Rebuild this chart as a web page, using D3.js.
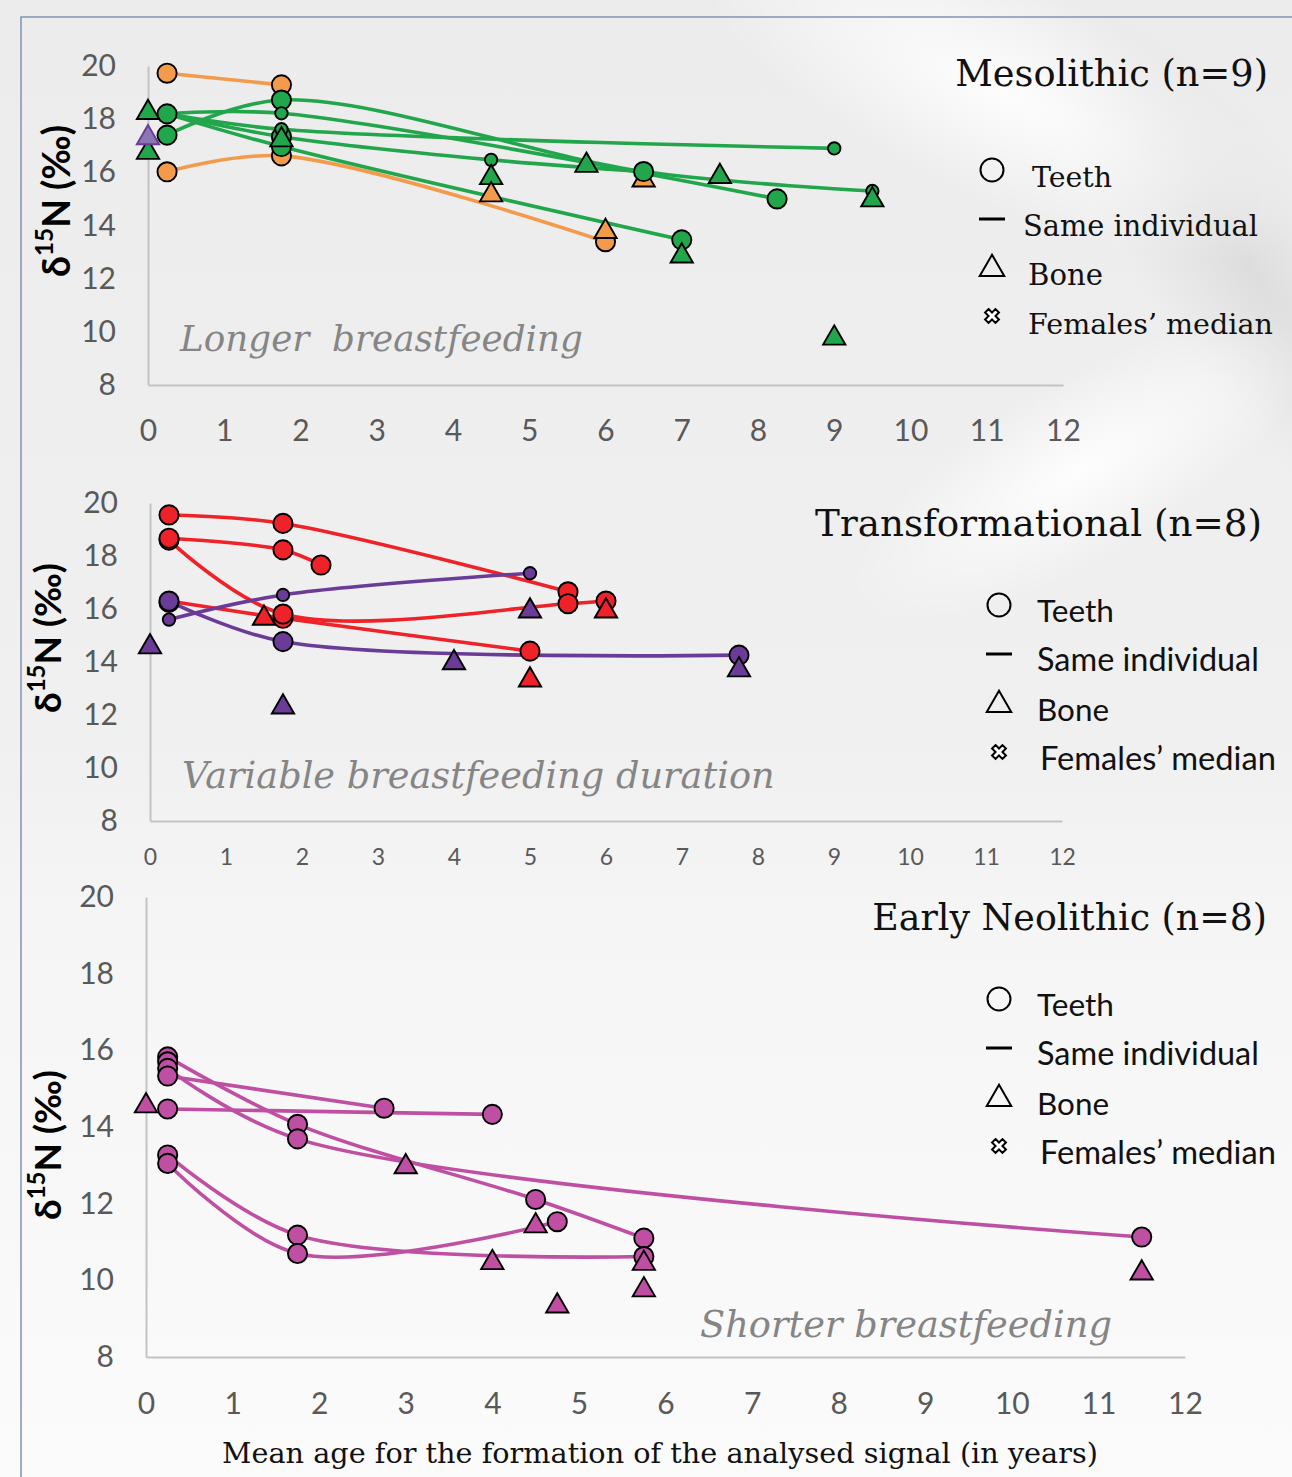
<!DOCTYPE html>
<html>
<head>
<meta charset="utf-8">
<script src="https://d3js.org/d3.v7.min.js"></script>
<style>
  body { margin: 0; background: #fff; }
  svg { display: block; }
</style>
</head>
<body>
<svg id="chart" width="1292" height="1477"></svg>
<script>

// ---------------- data ----------------
// Mesolithic : groups "a" (orange) and "b" (green)
var mesoLines = [
  ["a", [[0.25,19.73],[1.75,19.29]]],
  ["a", [[0.25,16.02],[1.75,16.62],[6,13.39]]],
  ["b", [[0.25,17.4],[1.75,18.72],[6.5,16.03],[9.5,15.3]]],
  ["b", [[0.25,18.2],[1.75,18.22],[8.25,15.0]]],
  ["b", [[0.25,18.2],[1.75,17.62],[9,16.9]]],
  ["b", [[0.25,18.2],[1.75,16.97],[7,13.46]]],
  ["b", [[0.25,18.2],[1.75,17.34],[4.5,16.47],[6.5,16.03]]]
];
var mesoTeeth = [
  ["a",0.25,19.73],["a",1.75,19.29],["a",0.25,16.02],["a",1.75,16.62],["a",6,13.39],
  ["b",0.25,18.2],["b",0.25,17.4],["b",1.75,18.72],["b",1.75,17.34],["b",1.75,16.97],
  ["b",8.25,15.0],["b",7,13.46]
];
var mesoTeethSmall = [
  ["b",1.75,18.22],["b",1.75,17.62],["b",4.5,16.47],["b",9,16.9],["b",9.5,15.3]
];
var mesoBone = [
  ["b",0,18.25],["b",0,16.75],["c",0,17.3],["b",1.75,17.22],["b",4.5,15.8],["a",4.5,15.15],
  ["b",5.75,16.26],["a",6,13.77],["a",6.5,15.71],["b",7,12.85],["b",7.5,15.84],
  ["b",9.5,14.96],["b",9,9.76]
];
var mesoTeethTop = [["b",6.5,16.03]];

// Transformational : groups "r" (red) and "p" (purple)
var transLines = [
  ["r", [[0.25,19.55],[1.75,19.23],[5.5,16.65]]],
  ["r", [[0.25,18.67],[1.75,18.23],[2.25,17.66]]],
  ["r", [[0.25,18.6],[1.75,15.81],[5.5,16.2],[6,16.3]]],
  ["r", [[0.25,16.3],[1.75,15.65],[5,14.41]]],
  ["p", [[0.25,15.6],[1.75,16.53],[5,17.35]]],
  ["p", [[0.25,16.3],[1.75,14.77],[7.75,14.26]]]
];
var transTeeth = [
  ["r",0.25,18.6],["r",0.25,18.67],["r",0.25,19.55],["r",1.75,19.23],["r",1.75,18.23],
  ["r",2.25,17.66],["r",1.75,15.65],["r",1.75,15.81],["r",5.5,16.65],["r",5.5,16.2],
  ["r",6,16.3],["r",5,14.41],["r",0.25,16.25],
  ["p",0.25,16.3],["p",1.75,14.77],["p",7.75,14.26]
];
var transTeethSmall = [["p",0.25,15.6],["p",1.75,16.53],["p",5,17.35]];
var transBone = [
  ["r",1.5,15.65],["r",6,15.92],["r",5,13.32],
  ["p",0,14.57],["p",1.75,12.3],["p",4,13.97],["p",5,15.92],["p",7.75,13.7]
];

// Early Neolithic : group "m" (magenta)
var neoLines = [
  ["m", [[0.25,15.83],[1.75,14.07],[4.5,12.11],[5.75,11.1]]],
  ["m", [[0.25,15.53],[1.75,13.69],[11.5,11.13]]],
  ["m", [[0.25,15.33],[2.75,14.49]]],
  ["m", [[0.25,14.47],[4,14.33]]],
  ["m", [[0.25,13.27],[1.75,11.18],[5.75,10.62]]],
  ["m", [[0.25,13.05],[1.75,10.7],[4.75,11.53]]]
];
var neoTeeth = [
  ["m",0.25,15.83],["m",0.25,15.7],["m",0.25,15.53],["m",0.25,15.33],["m",0.25,14.47],
  ["m",0.25,13.27],["m",0.25,13.05],["m",1.75,14.07],["m",1.75,13.69],["m",1.75,11.18],
  ["m",1.75,10.7],["m",2.75,14.49],["m",4,14.33],["m",4.5,12.11],["m",4.75,11.53],
  ["m",5.75,11.1],["m",5.75,10.62],["m",11.5,11.13]
];
var neoTeethSmall = [];
var neoBone = [
  ["m",0,14.55],["m",3,12.96],["m",4,10.46],["m",4.5,11.42],["m",4.75,9.33],
  ["m",5.75,10.44],["m",5.75,9.75],["m",11.5,10.19]
];

var xTicks = [0,1,2,3,4,5,6,7,8,9,10,11,12];
var yTicks = [8,10,12,14,16,18,20];
var legendItems = ["Teeth", "Same individual", "Bone", "Females\u2019 median"];
var titles = ["Mesolithic (n=9)", "Transformational (n=8)", "Early Neolithic (n=8)"];
var notes = ["Longer  breastfeeding", "Variable breastfeeding duration", "Shorter breastfeeding"];
var xTitle = "Mean age for the formation of the analysed signal (in years)";

// ---------------- styles ----------------
var color = { a:"#f39a4b", b:"#22a64b", c:"#8b78b3", r:"#ee2228", p:"#6a3b97", m:"#bf4fa2" };
var stroke = { c:"#6a3b97" };
var SERIF = "'DejaVu Serif', 'Liberation Serif', serif";
var SANS = "Lato, 'Open Sans', sans-serif";

var svg = d3.select("#chart");

// background
var defs = svg.append("defs");
var bg = defs.append("linearGradient").attr("id","bg").attr("x1",0).attr("y1",0).attr("x2",0).attr("y2",1);
bg.append("stop").attr("offset","0%").attr("stop-color","#ececec");
bg.append("stop").attr("offset","50%").attr("stop-color","#f0f0f0");
bg.append("stop").attr("offset","62%").attr("stop-color","#f5f5f5");
bg.append("stop").attr("offset","100%").attr("stop-color","#fbfbfb");
var glow = defs.append("radialGradient").attr("id","glow");
glow.append("stop").attr("offset","0%").attr("stop-color","#fff").attr("stop-opacity",0.9);
glow.append("stop").attr("offset","100%").attr("stop-color","#fff").attr("stop-opacity",0);
var shade = defs.append("radialGradient").attr("id","shade");
shade.append("stop").attr("offset","0%").attr("stop-color","#d2d2d2").attr("stop-opacity",0.6);
shade.append("stop").attr("offset","100%").attr("stop-color","#d8d8d8").attr("stop-opacity",0);

svg.append("rect").attr("width",1292).attr("height",1477).attr("fill","url(#bg)");
svg.append("ellipse").attr("cx",1250).attr("cy",270).attr("rx",100).attr("ry",320)
   .attr("transform","rotate(-35,1250,270)").attr("fill","url(#shade)");
svg.append("ellipse").attr("cx",1000).attr("cy",90).attr("rx",330).attr("ry",110)
   .attr("transform","rotate(25,1000,90)").attr("fill","url(#glow)");
svg.append("ellipse").attr("cx",1080).attr("cy",470).attr("rx",260).attr("ry",90)
   .attr("transform","rotate(-30,1080,470)").attr("fill","url(#glow)");
svg.append("path").attr("d","M21,1477V17H1292").attr("fill","none")
   .attr("stroke","#8194b3").attr("stroke-width",1.5);

function fit(t, w) {
  var l = t.node().getComputedTextLength();
  t.attr("font-size", parseFloat(t.attr("font-size")) * w / l);
  return t;
}

var panels = [
  { lines: mesoLines, teeth: mesoTeeth, small: mesoTeethSmall, bone: mesoBone, top: mesoTeethTop,
    x0:148, x1:1063, yb:385, yt:66, xpad:35, xfs:30, ylab:[60,201,152],
    title:[1268,86,313], note:[180,351,403], legSerif:true,
    leg:{ sx:992, tx:[1032,1023,1028,1028], ty:[187,236,285,334], w:[80,235,75,245] } },
  { lines: transLines, teeth: transTeeth, small: transTeethSmall, bone: transBone, top: [],
    x0:150, x1:1062, yb:821, yt:503, xpad:28, xfs:23, ylab:[52,638,150],
    title:[1262,536,447], note:[182,788,593], legSerif:false,
    leg:{ sx:999, tx:[1037,1037,1037,1040], ty:[622,671,721,770], w:[77,222,72,236] } },
  { lines: neoLines, teeth: neoTeeth, small: neoTeethSmall, bone: neoBone, top: [],
    x0:146, x1:1185, yb:1357, yt:897, xpad:36, xfs:30, ylab:[52,1145,150],
    title:[1267,930,395], note:[700,1337,412], legSerif:false,
    leg:{ sx:999, tx:[1037,1037,1037,1040], ty:[1016,1065,1115,1164], w:[77,222,72,236] } }
];

panels.forEach(function(p, i) {
  var x = d3.scaleLinear().domain([0,12]).range([p.x0, p.x1]);
  var y = d3.scaleLinear().domain([8,20]).range([p.yb, p.yt]);
  var g = svg.append("g");

  // axes
  var ax = g.append("g").attr("transform","translate(0," + p.yb + ")")
    .call(d3.axisBottom(x).tickValues(xTicks).tickSize(0).tickPadding(p.xpad).tickFormat(d3.format("d")));
  var ay = g.append("g").attr("transform","translate(" + p.x0 + ",0)")
    .call(d3.axisLeft(y).tickValues(yTicks).tickSize(0).tickPadding(32).tickFormat(d3.format("d")));
  [ax, ay].forEach(function(a) {
    a.select(".domain").attr("stroke","#c3c3c3").attr("stroke-width",2);
    a.selectAll("text").attr("fill","#595959").attr("font-family",SANS);
  });
  ax.selectAll("text").attr("font-size", p.xfs);
  ay.selectAll("text").attr("font-size", 30);

  // y axis label
  var yl = g.append("text").attr("transform","translate(" + p.ylab[0] + "," + p.ylab[1] + ") rotate(-90)")
    .attr("text-anchor","middle").attr("dominant-baseline","middle")
    .attr("font-family",SANS).attr("font-weight","bold").attr("font-size",30).attr("fill","#000");
  yl.append("tspan").text("\u03b4");
  yl.append("tspan").attr("font-size","65%").attr("dy","-0.55em").text("15");
  yl.append("tspan").attr("dy","0.36em").text("N (\u2030)");
  fit(yl, p.ylab[2]);

  // annotation & title
  var nt = g.append("text").attr("x",p.note[0]).attr("y",p.note[1])
    .attr("font-family",SERIF).attr("font-style","italic").attr("font-size",36)
    .attr("fill","#858585").attr("xml:space","preserve").text(notes[i]);
  fit(nt, p.note[2]);
  var tt = g.append("text").attr("x",p.title[0]).attr("y",p.title[1]).attr("text-anchor","end")
    .attr("font-family",SERIF).attr("font-size",38).attr("fill","#111").text(titles[i]);
  fit(tt, p.title[2]);

  // lines
  var line = d3.line().x(function(d){ return x(d[0]); }).y(function(d){ return y(d[1]); })
    .curve(d3.curveCatmullRom.alpha(0.5));
  g.selectAll("path.ind").data(p.lines).join("path").attr("class","ind")
    .attr("d", function(d){ return line(d[1]); })
    .attr("fill","none").attr("stroke", function(d){ return color[d[0]]; })
    .attr("stroke-width",3.6).attr("stroke-linecap","round");

  // markers
  function circles(data, r) {
    g.append("g").selectAll("circle").data(data).join("circle")
      .attr("cx", function(d){ return x(d[1]); }).attr("cy", function(d){ return y(d[2]); })
      .attr("r", r).attr("fill", function(d){ return color[d[0]]; })
      .attr("stroke","#000").attr("stroke-width",1.9);
  }
  circles(p.teeth, 9.6);
  circles(p.small, 6.2);
  var tri = d3.symbol().type(d3.symbolTriangle).size(215);
  g.append("g").selectAll("path").data(p.bone).join("path")
    .attr("d", tri)
    .attr("transform", function(d){ return "translate(" + x(d[1]) + "," + y(d[2]) + ")"; })
    .attr("fill", function(d){ return color[d[0]]; })
    .attr("stroke", function(d){ return stroke[d[0]] || "#000"; })
    .attr("stroke-width",1.9).attr("stroke-linejoin","miter");
  circles(p.top, 9.6);

  // legend
  var L = p.leg, lg = g.append("g");
  lg.append("circle").attr("cx",L.sx).attr("cy",L.ty[0]-17).attr("r",11.5)
    .attr("fill","none").attr("stroke","#000").attr("stroke-width",2);
  lg.append("line").attr("x1",L.sx-13).attr("x2",L.sx+13).attr("y1",L.ty[1]-17).attr("y2",L.ty[1]-17)
    .attr("stroke","#000").attr("stroke-width",3);
  lg.append("path").attr("d", d3.symbol().type(d3.symbolTriangle).size(260))
    .attr("transform","translate(" + L.sx + "," + (L.ty[2]-16) + ")")
    .attr("fill","none").attr("stroke","#000").attr("stroke-width",2);
  lg.append("path").attr("d", d3.symbol().type(d3.symbolCross).size(120))
    .attr("transform","translate(" + L.sx + "," + (L.ty[3]-18) + ") rotate(45)")
    .attr("fill","#fff").attr("stroke","#000").attr("stroke-width",2);
  legendItems.forEach(function(s, k) {
    var t = lg.append("text").attr("x",L.tx[k]).attr("y",L.ty[k])
      .attr("font-family", p.legSerif ? SERIF : SANS).attr("font-size",30).attr("fill","#111").text(s);
    fit(t, L.w[k]);
  });
});

var xt = svg.append("text").attr("x",660).attr("y",1463).attr("text-anchor","middle")
  .attr("font-family",SERIF).attr("font-size",30).attr("fill","#111").text(xTitle);
fit(xt, 876);

</script>
</body>
</html>
